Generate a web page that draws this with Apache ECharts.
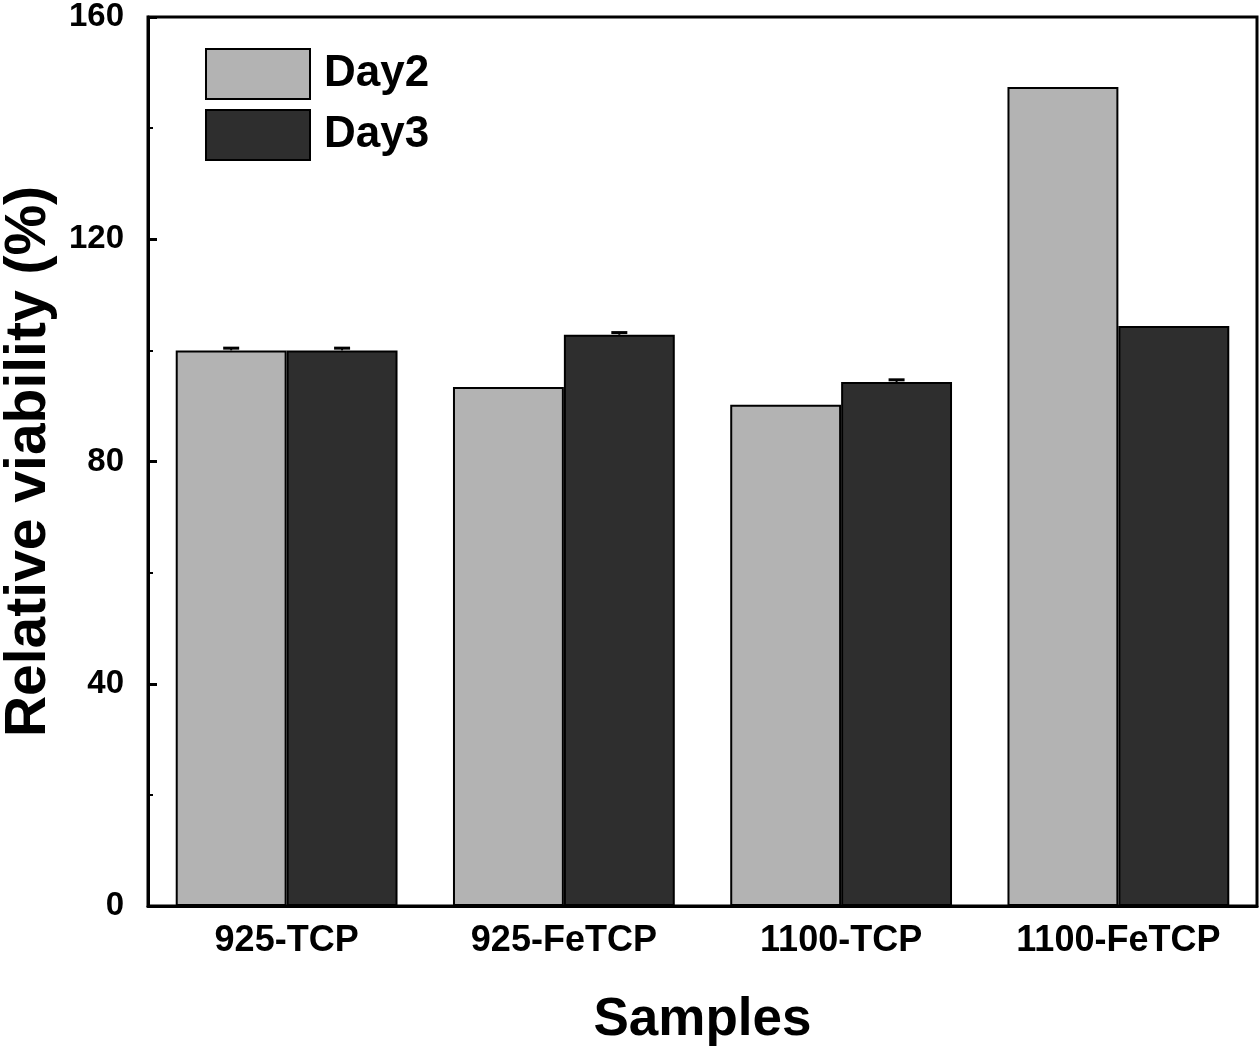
<!DOCTYPE html>
<html>
<head>
<meta charset="utf-8">
<script src="https://cdn.jsdelivr.net/npm/echarts@6/dist/echarts.min.js"></script>
<style>
  html, body { margin: 0; padding: 0; background: #fff; }
  #chart { width: 1260px; height: 1054px; }
</style>
</head>
<body>
<div id="chart"></div>
<script>
var samples = ['925-TCP', '925-FeTCP', '1100-TCP', '1100-FeTCP'];
var day2 = [100, 93.4, 90.2, 147.4];
var day3 = [100, 102.8, 94.3, 104.4];
var day2Err = [0.4, 0, 0, 0];
var day3Err = [0.4, 0.4, 0.4, 0];

var FONT = '"Liberation Sans", Arial, sans-serif';
var catGap = 0.2;

// error bar caps, offset onto each bar of the pair
var errorSeries = function(name, values, errs, side) {
  return {
    name: name + 'Err',
    type: 'custom',
    z: 5,
    data: values.map(function(v, i) { return [i, v, errs[i]]; }),
    renderItem: function(params, api) {
      var idx = api.value(0);
      var v = api.value(1);
      var e = api.value(2);
      if (!e) return;
      var catW = api.size([1, 0])[0];
      var barW = catW * (1 - catGap) / 2;
      var base = api.coord([idx, v]);
      var top = api.coord([idx, v + e]);
      var x = base[0] + side * barW / 2;
      var capW = 16;
      return {
        type: 'group',
        children: [
          {type: 'line', shape: {x1: x, y1: base[1], x2: x, y2: top[1]}, style: {stroke: '#000', lineWidth: 2}},
          {type: 'line', shape: {x1: x - capW / 2, y1: top[1], x2: x + capW / 2, y2: top[1]}, style: {stroke: '#000', lineWidth: 3}}
        ]
      };
    }
  };
};

var chart = echarts.init(document.getElementById('chart'));
chart.setOption({
  animation: false,
  textStyle: {fontFamily: FONT, color: '#000'},
  grid: {
    left: 148, top: 17, right: 3, bottom: 148,
    outerBoundsMode: 'none',
    containLabel: false,
    show: true, borderColor: '#000', borderWidth: 3
  },
  legend: {
    orient: 'vertical',
    left: 205, top: 48,
    padding: 0,
    itemWidth: 104, itemHeight: 50, itemGap: 9,
    icon: 'rect',
    textStyle: {fontFamily: FONT, fontWeight: 'bold', fontSize: 44, lineHeight: 50, color: '#000', padding: [0, 0, 0, 9]},
    data: ['Day2', 'Day3']
  },
  xAxis: {
    type: 'category',
    data: samples,
    name: 'Samples',
    nameLocation: 'middle',
    nameGap: 88,
    nameTextStyle: {fontFamily: FONT, fontWeight: 'bold', fontSize: 53, color: '#000'},
    axisLine: {lineStyle: {color: '#000', width: 3}},
    axisTick: {inside: true, length: 8, lineStyle: {color: '#000', width: 3}},
    axisLabel: {margin: 17, fontFamily: FONT, fontWeight: 'bold', fontSize: 36, color: '#000'},
    splitLine: {show: false}
  },
  yAxis: {
    type: 'value',
    min: 0, max: 160, interval: 40,
    name: 'Relative viability (%)',
    nameLocation: 'middle',
    nameGap: 89,
    nameTextStyle: {fontFamily: FONT, fontWeight: 'bold', fontSize: 57, color: '#000'},
    axisLine: {show: true, lineStyle: {color: '#000', width: 3}},
    axisTick: {show: true, inside: true, length: 9, lineStyle: {color: '#000', width: 3}},
    minorTick: {show: true, splitNumber: 2, length: 5, lineStyle: {color: '#000', width: 2}},
    axisLabel: {margin: 24, fontFamily: FONT, fontWeight: 'bold', fontSize: 33, color: '#000'},
    splitLine: {show: false}
  },
  series: [
    {
      name: 'Day2',
      type: 'bar',
      data: day2,
      barGap: '0%',
      barCategoryGap: '20%',
      itemStyle: {color: '#b3b3b3', borderColor: '#000', borderWidth: 2}
    },
    {
      name: 'Day3',
      type: 'bar',
      data: day3,
      barGap: '0%',
      barCategoryGap: '20%',
      itemStyle: {color: '#2e2e2e', borderColor: '#000', borderWidth: 2}
    },
    errorSeries('Day2', day2, day2Err, -1),
    errorSeries('Day3', day3, day3Err, 1)
  ]
});
</script>
</body>
</html>
